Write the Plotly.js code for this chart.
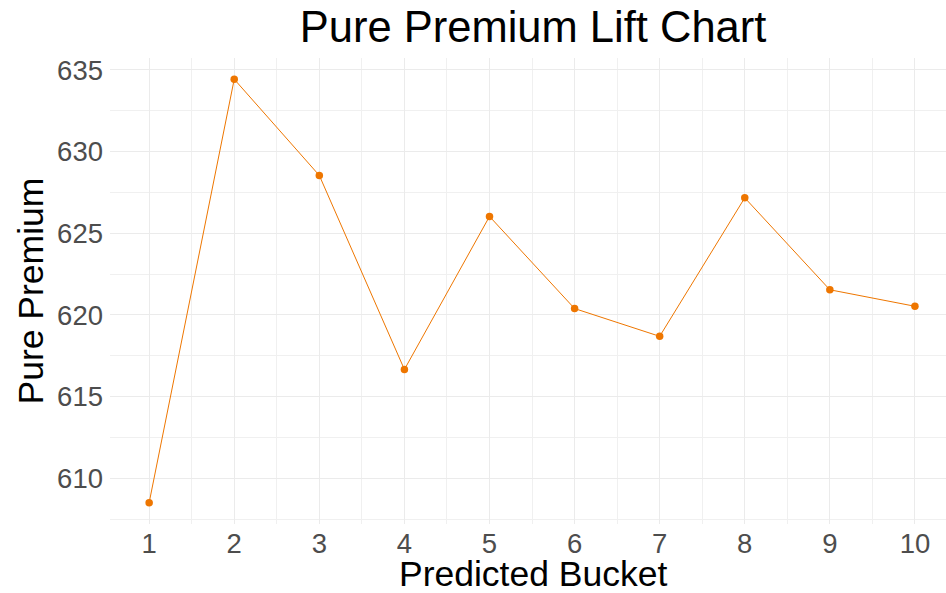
<!DOCTYPE html>
<html>
<head>
<meta charset="utf-8">
<script src="https://cdn.plot.ly/plotly-3.0.1.min.js"></script>
<style>html,body{margin:0;padding:0;background:#fff;}#chart{width:946px;height:593px;}</style>
</head>
<body>
<div id="chart"></div>
<script>
const buckets = [1, 2, 3, 4, 5, 6, 7, 8, 9, 10];
const purePremium = [608.5, 634.43, 628.54, 616.66, 626.03, 620.39, 618.69, 627.17, 621.54, 620.53];
const xTickVals = [1, 2, 3, 4, 5, 6, 7, 8, 9, 10];
const yTickVals = [610, 615, 620, 625, 630, 635];
const xTitle = "Predicted Bucket";
const yTitle = "Pure Premium";

const font = "Liberation Sans, Arial, sans-serif";
const orange = "#EE7600";

const trace = {
  x: buckets,
  y: purePremium,
  type: "scatter",
  mode: "lines+markers",
  line: {color: orange, width: 1},
  marker: {color: orange, size: 7.5},
  hoverinfo: "x+y"
};

const layout = {
  width: 946,
  height: 593,
  paper_bgcolor: "#fff",
  plot_bgcolor: "#fff",
  margin: {l: 110, r: 0, t: 58, b: 69},
  showlegend: false,
  title: {
    text: "Pure Premium Lift Chart",
    font: {family: font, size: 43.5, color: "#000"},
    x: 0.5635, xanchor: "center",
    y: 1 - 27 / 593, yanchor: "middle",
    yref: "container"
  },
  xaxis: {
    range: [0.54, 10.365],
    tickvals: xTickVals,
    ticks: "",
    showline: false,
    zeroline: false,
    showgrid: true,
    gridcolor: "#ebebeb",
    gridwidth: 1,
    minor: {dtick: 0.5, tick0: 0.5, showgrid: true, gridcolor: "#f0f0f0", gridwidth: 1},
    tickfont: {family: font, size: 27.5, color: "#4d4d4d"},
    automargin: false
  },
  yaxis: {
    range: [607.2, 635.73],
    tickvals: yTickVals,
    ticks: "",
    showline: false,
    zeroline: false,
    showgrid: true,
    gridcolor: "#ebebeb",
    gridwidth: 1,
    minor: {dtick: 2.5, tick0: 607.5, showgrid: true, gridcolor: "#f0f0f0", gridwidth: 1},
    tickfont: {family: font, size: 27.5, color: "#4d4d4d"},
    ticklabelstandoff: 6,
    automargin: false
  },
  annotations: [
    {
      text: xTitle, showarrow: false,
      xref: "paper", yref: "paper",
      x: (533.5 - 110) / 836, xanchor: "center",
      y: -(573.5 - 524) / 466, yanchor: "middle",
      font: {family: font, size: 35.5, color: "#000"}
    },
    {
      text: yTitle, showarrow: false, textangle: -90,
      xref: "paper", yref: "paper",
      x: -(110 - 30.5) / 836, xanchor: "center",
      y: (524 - 291) / 466, yanchor: "middle",
      font: {family: font, size: 35.5, color: "#000"}
    }
  ]
};

Plotly.newPlot("chart", [trace], layout, {displayModeBar: false, staticPlot: true});
</script>
</body>
</html>
